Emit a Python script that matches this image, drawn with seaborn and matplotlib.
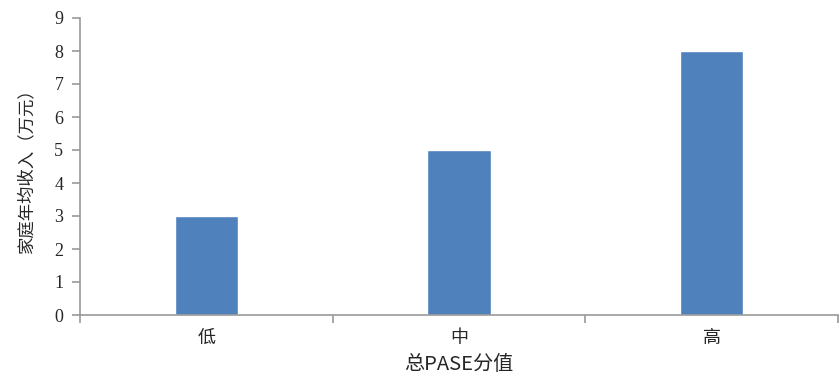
import matplotlib
matplotlib.use("Agg")
import matplotlib.pyplot as plt
import seaborn as sns
import pandas as pd
from matplotlib.ticker import FixedLocator

categories = ["低", "中", "高"]
income = [3, 5, 8]
y_ticks = [0, 1, 2, 3, 4, 5, 6, 7, 8, 9]

sns.set_theme(style="white")
plt.rcParams["font.family"] = ["Liberation Serif", "Noto Sans CJK SC", "DejaVu Sans"]
CJK = ["Noto Sans CJK SC", "DejaVu Sans"]
SERIF = ["Liberation Serif", "DejaVu Serif"]

df = pd.DataFrame({"cat": categories, "val": income})

fig = plt.figure(figsize=(8.4, 3.76), dpi=100)
ax = fig.add_axes([80 / 840, 61 / 376, 758 / 840, 297 / 376])

sns.barplot(data=df, x="cat", y="val", color="#4F81BD", width=0.25,
            saturation=1, ax=ax)

ax.set_xlim(-0.5, 2.5)
ax.set_ylim(0, 9)
ax.set_yticks(y_ticks)
ax.set_yticklabels([str(t) for t in y_ticks])

ax.xaxis.set_minor_locator(FixedLocator([-0.5, 0.5, 1.5, 2.5]))
ax.tick_params(axis="x", which="major", bottom=True, length=0, pad=10,
               labelsize=13)
ax.tick_params(axis="x", which="minor", bottom=True, length=6, width=1.2,
               color="#999999", direction="out")
ax.tick_params(axis="y", which="major", left=True, length=6, width=1.2,
               color="#999999", direction="out", pad=6, labelsize=13)

for side in ["top", "right"]:
    ax.spines[side].set_visible(False)
for side in ["left", "bottom"]:
    ax.spines[side].set_color("#999999")
    ax.spines[side].set_linewidth(1.2)

ax.set_xlabel("总PASE分值", fontsize=14.5, family=CJK, labelpad=5)
ax.set_ylabel("家庭年均收入（万元）", fontsize=12.5, family=CJK, labelpad=14)

# Digits in a serif face, Chinese category names in the CJK face
for lab in ax.get_yticklabels():
    lab.set_fontfamily(SERIF)
for lab in ax.get_xticklabels():
    lab.set_fontfamily(CJK)

fig.savefig("out.png", dpi=100)
